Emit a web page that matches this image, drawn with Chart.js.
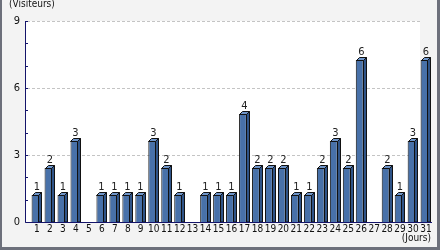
<!DOCTYPE html>
<html>
<head>
<meta charset="utf-8">
<script src="https://cdn.jsdelivr.net/npm/chart.js@4/dist/chart.umd.min.js"></script>
<style>
  html, body { margin: 0; padding: 0; background: #f3f3f3; }
  #wrap { width: 440px; height: 250px; }
</style>
</head>
<body>
<div id="wrap"><canvas id="chart" width="440" height="250"></canvas></div>
<script>
'use strict';

// data
const DAYS = ['1','2','3','4','5','6','7','8','9','10','11','12','13','14','15','16',
  '17','18','19','20','21','22','23','24','25','26','27','28','29','30','31'];
const VISITORS = [1,2,1,3,0,1,1,1,1,3,2,1,0,1,1,1,4,2,2,2,1,1,2,3,2,6,0,2,1,3,6];
// the source axis is not to scale: its "9" line sits where a bar of ~7.45 would end
const Y_AXIS_TOP = 7.45;
const Y_AXIS_LABELS = ['0','','','3','','','6','','','9'];
const Y_TITLE = '(Visiteurs)';
const X_TITLE = '(Jours)';

const FONT = '"DejaVu Sans Condensed", "Liberation Sans Narrow", "DejaVu Sans", sans-serif';
const DEPTH = 3;

const decor = {
  id: 'decor',
  beforeDraw(chart) {
    const {ctx, chartArea: a, scales: {y}} = chart;
    ctx.save();
    ctx.fillStyle = '#f3f3f3';
    ctx.fillRect(0, 0, chart.width, chart.height);
    const left = a.left - 3, right = 420;
    ctx.fillStyle = '#ffffff';
    ctx.fillRect(left, a.top, right - left, a.bottom - a.top);
    // dashed lines at the labelled ticks
    ctx.strokeStyle = '#c4c4c4';
    ctx.lineWidth = 1;
    ctx.setLineDash([3, 2]);
    y.ticks.forEach((t, i) => {
      if (i === 0 || !Y_AXIS_LABELS[i]) return;
      const py = Math.round(y.getPixelForValue(t.value)) + 0.5;
      ctx.beginPath();
      ctx.moveTo(left + 1, py);
      ctx.lineTo(right, py);
      ctx.stroke();
    });
    ctx.restore();
  },
  afterDatasetsDraw(chart) {
    const {ctx, chartArea: a, scales: {y}} = chart;
    const bars = chart.getDatasetMeta(0).data;
    ctx.save();
    ctx.lineWidth = 1;
    ctx.strokeStyle = '#111';
    bars.forEach((bar, i) => {
      if (!VISITORS[i]) return;
      const l = Math.round(bar.x - bar.width / 2) + 0.5;
      const r = Math.round(bar.x + bar.width / 2) - 0.5;
      const t = Math.round(bar.y) + 0.5;
      const b = Math.round(bar.base);
      // top face
      ctx.fillStyle = '#6f95c9';
      ctx.beginPath();
      ctx.moveTo(l, t);
      ctx.lineTo(l + DEPTH, t - DEPTH);
      ctx.lineTo(r + DEPTH, t - DEPTH);
      ctx.lineTo(r, t);
      ctx.closePath();
      ctx.fill();
      ctx.stroke();
      // side face
      ctx.fillStyle = '#2f5488';
      ctx.beginPath();
      ctx.moveTo(r, t);
      ctx.lineTo(r + DEPTH, t - DEPTH);
      ctx.lineTo(r + DEPTH, b);
      ctx.lineTo(r, b);
      ctx.closePath();
      ctx.fill();
      ctx.stroke();
      // value label
      ctx.fillStyle = '#222';
      ctx.font = '11px ' + FONT;
      ctx.textAlign = 'center';
      ctx.textBaseline = 'alphabetic';
      ctx.fillText(String(VISITORS[i]), (l + r + DEPTH) / 2, t - DEPTH - 3);
    });

    // axes
    const ax = a.left - 3.5;
    ctx.strokeStyle = '#14146a';
    ctx.beginPath();
    ctx.moveTo(ax, a.top);
    ctx.lineTo(ax, a.bottom + 0.5);
    ctx.lineTo(a.right + 1, a.bottom + 0.5);
    ctx.stroke();
    y.ticks.forEach(tk => {
      const py = Math.round(y.getPixelForValue(tk.value)) + 0.5;
      ctx.beginPath();
      ctx.moveTo(ax, py);
      ctx.lineTo(ax + 2.5, py);
      ctx.stroke();
    });

    // titles
    ctx.fillStyle = '#111';
    ctx.font = '10px ' + FONT;
    ctx.textBaseline = 'top';
    ctx.textAlign = 'left';
    ctx.fillText(Y_TITLE, 9, -1);
    ctx.textAlign = 'right';
    ctx.fillText(X_TITLE, 431, 233);

    // frame
    ctx.fillStyle = '#6d707b';
    ctx.fillRect(0, 0, 2, chart.height);
    ctx.fillRect(chart.width - 3, 0, 3, chart.height);
    ctx.fillRect(0, chart.height - 3, chart.width, 3);
    ctx.restore();
  }
};

new Chart(document.getElementById('chart'), {
  type: 'bar',
  data: {
    labels: DAYS,
    datasets: [{
      data: VISITORS,
      backgroundColor: '#4871a9',
      borderColor: '#111',
      borderWidth: 1,
      barPercentage: 0.6,
      categoryPercentage: 1
    }]
  },
  options: {
    responsive: false,
    animation: false,
    layout: { padding: { top: 21, right: 9, left: 0, bottom: 0 } },
    plugins: { legend: { display: false }, tooltip: { enabled: false } },
    scales: {
      x: {
        grid: { display: false, drawTicks: false },
        border: { display: false },
        afterFit(scale) { scale.height = 28; },
        ticks: {
          autoSkip: false,
          maxRotation: 0,
          padding: 1,
          labelOffset: 1.5,
          color: '#111',
          font: { family: FONT, size: 10 }
        }
      },
      y: {
        min: 0,
        max: Y_AXIS_TOP,
        grid: { display: false, drawTicks: false },
        border: { display: false },
        afterFit(scale) { scale.width = 29; },
        afterBuildTicks(scale) {
          scale.ticks = Y_AXIS_LABELS.map((_, i) => ({ value: i * Y_AXIS_TOP / 9 }));
        },
        ticks: {
          padding: 9,
          color: '#111',
          font: { family: FONT, size: 11 },
          callback: (v, i) => Y_AXIS_LABELS[i]
        }
      }
    }
  },
  plugins: [decor]
});
</script>
</body>
</html>
